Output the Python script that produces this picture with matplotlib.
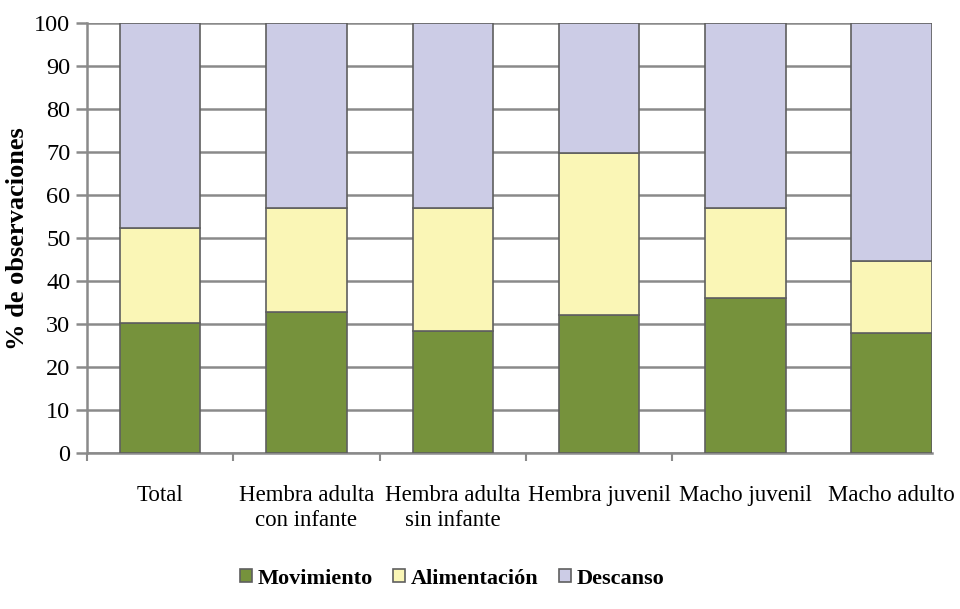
import matplotlib
matplotlib.use('Agg')
import matplotlib.pyplot as plt
import numpy as np
from matplotlib.ticker import FixedLocator

# ── Data ──────────────────────────────────────────────────────────
categorias = ['Total', 'Hembra adulta\ncon infante', 'Hembra adulta\nsin infante',
              'Hembra juvenil', 'Macho juvenil', 'Macho adulto']
movimiento = [30.2, 32.8, 28.4, 32.1, 36.2, 27.9]
alimentacion = [22.2, 24.3, 28.6, 37.8, 20.8, 16.8]
descanso = [47.6, 42.9, 43.0, 30.1, 43.0, 55.3]
y_ticks = list(range(0, 101, 10))

GREEN = '#76923C'
YELLOW = '#FAF6B6'
LAVENDER = '#CCCCE6'
EDGE = '#5f5f5f'
GRID = '#8a8a8a'

plt.rcParams['font.family'] = ['Liberation Serif', 'DejaVu Serif']

fig = plt.figure(figsize=(9.6, 6.09), dpi=100, facecolor='white')
ax = fig.add_axes([0.0906, 0.2557, 0.8802, 0.7060])

x = np.arange(len(categorias))
w = 0.55
mov = np.array(movimiento)
ali = np.array(alimentacion)
des = np.array(descanso)

ax.bar(x, mov, w, color=GREEN, edgecolor=EDGE, lw=1.2, label='Movimiento', zorder=3)
ax.bar(x, ali, w, bottom=mov, color=YELLOW, edgecolor=EDGE, lw=1.2,
       label='Alimentación', zorder=3)
ax.bar(x, des, w, bottom=mov + ali, color=LAVENDER, edgecolor=EDGE, lw=1.2,
       label='Descanso', zorder=3)

ax.set_xlim(-0.5, len(categorias) - 1 + w / 2)
ax.set_ylim(0, 100)
ax.set_yticks(y_ticks)
ax.grid(axis='y', color=GRID, lw=1.8, zorder=0)
ax.set_axisbelow(True)

for s in ['top', 'right']:
    ax.spines[s].set_visible(False)
for s in ['left', 'bottom']:
    ax.spines[s].set_color(GRID)
    ax.spines[s].set_linewidth(1.8)

ax.set_xticks(x)
ax.set_xticklabels(categorias, fontsize=16.5, linespacing=1.25)
ax.xaxis.set_minor_locator(FixedLocator(x[:-1] - 0.5))
ax.tick_params(axis='x', which='major', length=0, pad=23)
ax.tick_params(axis='x', which='minor', length=6, width=1.5, color=GRID)
ax.tick_params(axis='y', length=8, width=1.8, color=GRID, labelsize=17.5, pad=4)

ax.set_ylabel('% de observaciones', fontsize=19, fontweight='bold', labelpad=4)

fig.legend(loc='center', bbox_to_anchor=(0.471, 0.05), ncol=3, frameon=False,
           prop={'size': 16, 'weight': 'bold'}, handlelength=0.55, handleheight=0.55,
           handletextpad=0.25, columnspacing=0.9)

plt.savefig('out.png', dpi=100, facecolor='white')
